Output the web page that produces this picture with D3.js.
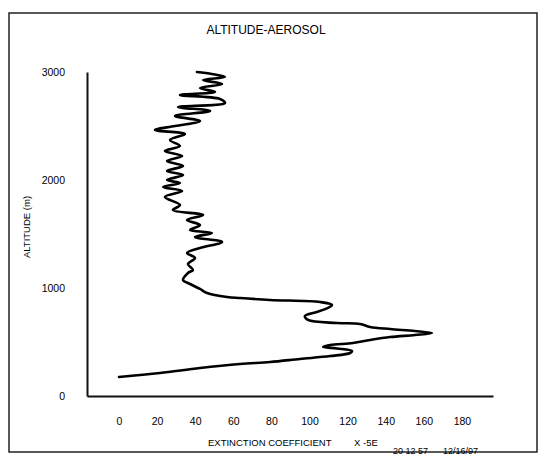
<!DOCTYPE html>
<html>
<head>
<meta charset="utf-8">
<script src="https://cdn.jsdelivr.net/npm/d3@7"></script>
<style>
  body { margin: 0; background: #fff; }
  text { font-family: "Liberation Sans", Arial, sans-serif; fill: #000; }
</style>
</head>
<body>
<script>
    var width = 543,
        height = 455;

    // profile, read bottom to top
    var altitude = [176, 213, 259, 296, 315, 343, 370, 398, 417, 440, 454, 472, 491, 519, 546, 565, 583, 602, 620, 639,
                    667, 676, 704, 741, 778, 815, 843, 870, 889, 907, 917, 954, 991, 1037, 1074, 1139, 1167, 1222, 1278, 1324,
                    1370, 1426, 1472, 1509, 1537, 1583, 1630, 1676, 1722, 1769, 1843, 1898, 1935, 1972, 2000, 2046, 2083, 2130, 2176, 2222,
                    2269, 2315, 2370, 2426, 2463, 2500, 2546, 2593, 2639, 2676, 2713, 2750, 2787, 2815, 2852, 2889, 2926, 2954, 2981, 3000];
    var extinction = [0, 21.5, 42.5, 63.5, 79.3, 95, 110.8, 121.3, 122.3, 114.4, 107.1, 110.8, 122.8, 131.8, 142.3, 155.4, 164.3, 155.4, 142.3, 131.8,
                      126.5, 114.4, 99.2, 97.6, 103.9, 109.7, 111.8, 105.5, 79.3, 63.5, 56.7, 46.2, 42.5, 37.3, 33.6, 36.2, 38.8, 36.2, 39.9, 35.7,
                      42.5, 54.1, 39.9, 48.8, 37.3, 42.5, 35.7, 44.1, 28.3, 32, 24.1, 33.1, 23.1, 32, 25.2, 33.6, 25.2, 33.6, 25.2, 33.1,
                      24.1, 32, 26.8, 34.6, 18.9, 29.4, 42.5, 29.4, 47.8, 31, 55.6, 53, 32, 50.4, 42.5, 54.1, 44.1, 55.6, 48.8, 40.9];

    var xTicks = [0, 20, 40, 60, 80, 100, 120, 140, 160, 180],
        yTicks = [0, 1000, 2000, 3000];

    var svg = d3.select("body").append("svg")
        .attr("width", width)
        .attr("height", height);

    // page frame
    svg.append("rect")
        .attr("x", 9).attr("y", 13)
        .attr("width", 528).attr("height", 439)
        .style("fill", "none")
        .style("stroke", "#222")
        .style("stroke-width", 1.5);

    var x = d3.scaleLinear().domain([-16.8, 196.3]).range([87, 493]);
    var y = d3.scaleLinear().domain([0, 3000]).range([396, 72]);

    var xAxis = svg.append("g")
        .attr("transform", "translate(0,396)")
        .call(d3.axisBottom(x).tickValues(xTicks).tickSize(0).tickSizeOuter(0).tickPadding(22));

    var yAxis = svg.append("g")
        .attr("transform", "translate(87,0)")
        .call(d3.axisLeft(y).tickValues(yTicks).tickFormat(d3.format("d")).tickSize(0).tickSizeOuter(0).tickPadding(22));

    [xAxis, yAxis].forEach(function (g) {
        g.select(".domain").style("stroke", "#111").style("stroke-width", 2);
        g.selectAll("text")
            .style("font-size", "10.5px")
            .style("fill", "#000")
            .style("font-family", "'Liberation Sans', Arial, sans-serif");
    });

    var line = d3.line()
        .x(function (d, i) { return x(extinction[i]); })
        .y(function (d, i) { return y(altitude[i]); })
        .curve(d3.curveCatmullRom.alpha(0.5));

    svg.append("path")
        .datum(altitude)
        .attr("d", line)
        .style("fill", "none")
        .style("stroke", "#000")
        .style("stroke-width", 2.6)
        .style("stroke-linejoin", "round")
        .style("stroke-linecap", "round");

    svg.append("text")
        .attr("x", 266).attr("y", 34)
        .attr("text-anchor", "middle")
        .style("font-size", "12px")
        .text("ALTITUDE-AEROSOL");

    svg.append("text")
        .attr("transform", "translate(30,227) rotate(-90)")
        .attr("text-anchor", "middle")
        .style("font-size", "9.5px")
        .text("ALTITUDE (m)");

    svg.append("text")
        .attr("x", 208).attr("y", 446)
        .style("font-size", "9.5px")
        .text("EXTINCTION COEFFICIENT");

    svg.append("text")
        .attr("x", 354).attr("y", 446)
        .style("font-size", "9.5px")
        .text("X -5E");

    svg.append("text")
        .attr("x", 393).attr("y", 454)
        .style("font-size", "9px")
        .text("20 12 57");

    svg.append("text")
        .attr("x", 443).attr("y", 454)
        .style("font-size", "9px")
        .text("12/16/97");
</script>
</body>
</html>
